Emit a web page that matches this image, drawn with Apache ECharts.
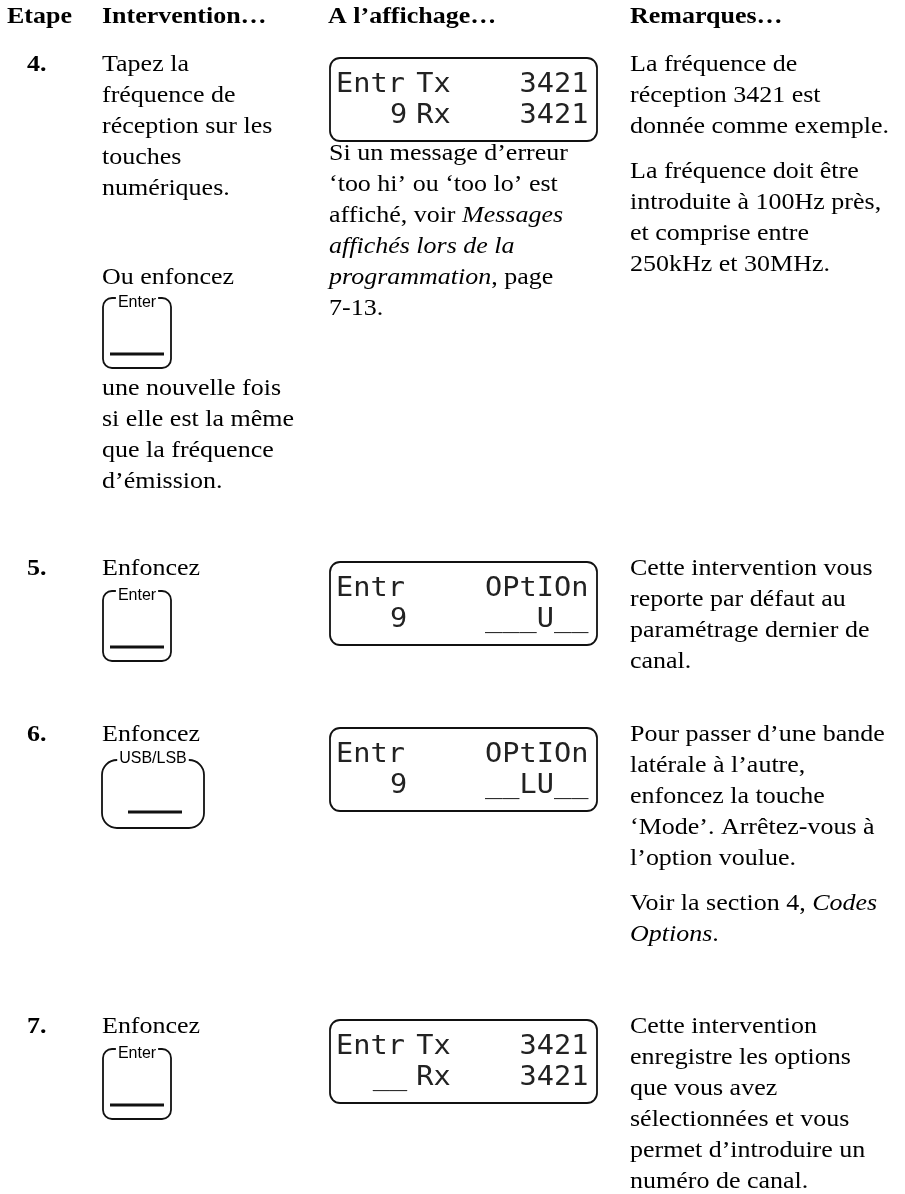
<!DOCTYPE html>
<html><head><meta charset="utf-8">
<script src="https://cdn.jsdelivr.net/npm/echarts@6/dist/echarts.min.js"></script>
<style>html,body{margin:0;padding:0;background:#fff}#c{width:905px;height:1194px}</style>
</head><body><div id="c"></div>
<script>
// ---------- content ----------
const headers = ["Etape", "Intervention…", "A l’affichage…", "Remarques…"];
const stepNumbers = ["4.", "5.", "6.", "7."];
const step4Action = ["Tapez la", "fréquence de", "réception sur les", "touches", "numériques."];
const step4Alt = ["Ou enfoncez"];
const step4AltAfter = ["une nouvelle fois", "si elle est la même", "que la fréquence", "d’émission."];
const pressVerb = "Enfoncez";
const keyNames = ["Enter", "Enter", "USB/LSB", "Enter"];
const lcdLine1 = [["Entr", "Tx", "3421"], ["Entr", "", "OPtIOn"], ["Entr", "", "OPtIOn"], ["Entr", "Tx", "3421"]];
const lcdLine2 = [["9", "Rx", "3421"], ["9", "", "___U__"], ["9", "", "__LU__"], ["__", "Rx", "3421"]];
const step4DisplayNote = ["Si un message d’erreur", "‘too hi’ ou ‘too lo’ est", "affiché, voir *Messages*", "*affichés lors de la*", "*programmation*, page", "7-13."];
const remarks = [
  [["La fréquence de", "réception 3421 est", "donnée comme exemple."],
   ["La fréquence doit être", "introduite à 100Hz près,", "et comprise entre", "250kHz et 30MHz."]],
  [["Cette intervention vous", "reporte par défaut au", "paramétrage dernier de", "canal."]],
  [["Pour passer d’une bande", "latérale à l’autre,", "enfoncez la touche", "‘Mode’. Arrêtez-vous à", "l’option voulue."],
   ["Voir la section 4, *Codes*", "*Options*."]],
  [["Cette intervention", "enregistre les options", "que vous avez", "sélectionnées et vous", "permet d’introduire un", "numéro de canal."]]
];

// ---------- layout ----------
const SERIF = '"Liberation Serif","Times New Roman",serif';
const SANS = '"Liberation Sans",Arial,sans-serif';
const MONO = '"DejaVu Sans Mono",monospace';
const FS = 23, SX = 1.13, LH = 31, MID = 0.34;
const COLX = [27, 102, 329, 630];
const HEADX = [7, 102, 328, 630];
const HEAD_BASE = 25;
const stepBase = [73, 577, 743, 1035];
const PARA_GAP = 45;

const cv = document.createElement('canvas');
const ctx = cv.getContext('2d');
function measure(t, font) { ctx.font = font; return ctx.measureText(t).width; }

const els = [];
function line(x, base, str, bold, fs, sx) {
  fs = fs || FS; sx = sx || SX;
  const parts = str.split('*');
  let off = 0; const children = [];
  parts.forEach((p, i) => {
    if (!p) return;
    const font = (i % 2 ? 'italic ' : '') + (bold ? 'bold ' : '') + fs + 'px ' + SERIF;
    children.push({ type: 'text', style: { x: off, y: 0, text: p, font: font, fill: '#000', verticalAlign: 'middle', textVerticalAlign: 'middle' } });
    off += measure(p, font);
  });
  els.push({ type: 'group', x: x, y: base - MID * fs, scaleX: sx, children: children });
}
function lines(x, base, arr) { arr.forEach((s, i) => line(x, base + i * LH, s)); return base + (arr.length - 1) * LH; }

function key(x, top, label, wide) {
  const w = wide ? 102 : 68, h = wide ? 68 : 70, r = wide ? 15 : 9;
  els.push({ type: 'rect', shape: { x: x, y: top, width: w, height: h, r: r }, style: { fill: 'none', stroke: '#111', lineWidth: 1.8 } });
  const lf = '16px ' + SANS;
  const lw = measure(label, lf);
  const cy = wide ? top - 1.5 : top + 4.5;
  els.push({ type: 'rect', shape: { x: x + w / 2 - lw / 2 - 2, y: top - 3, width: lw + 4, height: 6 }, style: { fill: '#fff' } });
  els.push({ type: 'text', style: { x: x + w / 2, y: cy, text: label, font: lf, fill: '#000', align: 'center', textAlign: 'center', verticalAlign: 'middle', textVerticalAlign: 'middle' } });
  const by = wide ? top + 52 : top + 56;
  const bx1 = wide ? x + 26 : x + 7, bx2 = wide ? x + 80 : x + w - 7;
  els.push({ type: 'line', shape: { x1: bx1, y1: by, x2: bx2, y2: by }, style: { stroke: '#111', lineWidth: 3.2 } });
}

const LCD_X = 330, LCD_W = 267, LCD_H = 83;
const GRID_X = 336, PITCH = 19.6, MFS = 26, MSX = 1.1;
const ADV = 0.602 * MFS * MSX;
function lcdText(x, base, t) {
  if (!t) return;
  els.push({ type: 'group', x: x, y: base - 0.35 * MFS, scaleX: MSX,
    children: [{ type: 'text', style: { x: 0, y: 0, text: t, font: MFS + 'px ' + MONO, fill: '#222', verticalAlign: 'middle', textVerticalAlign: 'middle' } }] });
}
function lcd(top, r1, r2) {
  els.push({ type: 'rect', shape: { x: LCD_X, y: top, width: LCD_W, height: LCD_H, r: 10 }, style: { fill: 'none', stroke: '#111', lineWidth: 1.8 } });
  const b1 = top + 36, b2 = top + 67;
  const endCell = GRID_X + 12 * PITCH;
  const annX = GRID_X + 4.1 * PITCH;
  lcdText(GRID_X, b1, r1[0]);
  lcdText(annX, b1, r1[1]);
  lcdText(endCell - (r1[2].length - 1) * ADV, b1, r1[2]);
  const chEnd = GRID_X + 2.75 * PITCH;
  lcdText(chEnd - (r2[0].length - 1) * ADV, b2, r2[0]);
  lcdText(annX, b2, r2[1]);
  lcdText(endCell - (r2[2].length - 1) * ADV, b2, r2[2]);
}

headers.forEach((h, i) => line(HEADX[i], HEAD_BASE, h, true));

stepBase.forEach((b, s) => {
  line(COLX[0], b, stepNumbers[s], true);
  lcd(b - 15, lcdLine1[s], lcdLine2[s]);
  let rb = b;
  remarks[s].forEach(para => { const last = lines(COLX[3], rb, para); rb = last + PARA_GAP; });
});

lines(COLX[1], stepBase[0], step4Action);
const altBase = 286;
lines(COLX[1], altBase, step4Alt);
key(103, altBase + 12, keyNames[0], false);
lines(COLX[1], 397, step4AltAfter);
lines(COLX[2], 162, step4DisplayNote);

[1, 2, 3].forEach(s => {
  line(COLX[1], stepBase[s], pressVerb);
  const wide = keyNames[s] !== 'Enter';
  key(wide ? 102 : 103, stepBase[s] + (wide ? 17 : 14), keyNames[s], wide);
});

const chart = echarts.init(document.getElementById('c'), null, { renderer: 'canvas' });
chart.setOption({ backgroundColor: '#fff', animation: false, graphic: { elements: els } });
</script>
</body></html>
